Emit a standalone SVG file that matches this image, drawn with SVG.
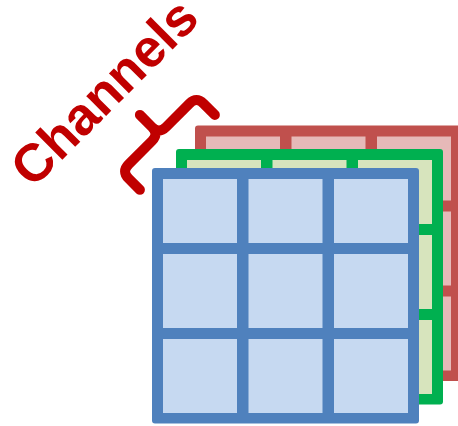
<svg xmlns="http://www.w3.org/2000/svg" xmlns:xlink="http://www.w3.org/1999/xlink" width="458" height="426" viewBox="0 0 458 426">
  <style>
    .label { font-family: "Liberation Sans", Arial, sans-serif; font-weight: bold; font-size: 53px; fill: #C00000; }
    .brace { fill: none; stroke: #C00000; stroke-width: 10; stroke-linecap: round; stroke-linejoin: round; }
    .blue-frame { fill: #4F81BD; }  .blue-cell { fill: #C6D9F1; }
    .green-frame { fill: #00B050; } .green-cell { fill: #D7E4BD; }
    .red-frame { fill: #C0504D; }   .red-cell { fill: #E6B9B8; }
  </style>
  <defs>
    <!-- one 3x3 channel grid: coloured frame with nine cells cut into it -->
    <rect id="frame" x="152" y="168" width="267" height="255.5" rx="3"/>
    <g id="cells">
      <rect x="163" y="179" width="74" height="64"/>
      <rect x="248.5" y="179" width="74" height="64"/>
      <rect x="334" y="179" width="74" height="64"/>
      <rect x="163" y="254" width="74" height="74"/>
      <rect x="248.5" y="254" width="74" height="74"/>
      <rect x="334" y="254" width="74" height="74"/>
      <rect x="163" y="339" width="74" height="74"/>
      <rect x="248.5" y="339" width="74" height="74"/>
      <rect x="334" y="339" width="74" height="74"/>
    </g>
  </defs>

  <!-- back channel (red) -->
  <g id="channel-red" transform="translate(43,-42.5)">
    <use xlink:href="#frame" class="red-frame"/>
    <use xlink:href="#cells" class="red-cell"/>
  </g>

  <!-- middle channel (green) -->
  <g id="channel-green" transform="translate(24,-19)">
    <use xlink:href="#frame" class="green-frame"/>
    <use xlink:href="#cells" class="green-cell"/>
  </g>

  <!-- front channel (blue) -->
  <g id="channel-blue">
    <use xlink:href="#frame" class="blue-frame"/>
    <use xlink:href="#cells" class="blue-cell"/>
  </g>

  <!-- curly brace spanning the stacked channels -->
  <g id="brace" transform="translate(159,134) rotate(-45)">
    <path class="brace" d="M -53 26 L -53 10 Q -53 0 -43 0 L -10 0 Q 0 0 0 -10 L 0 -27 M 0 -10 Q 0 0 10 0 L 43 0 Q 53 0 53 10 L 53 26"/>
  </g>

  <!-- label -->
  <g id="label">
    <text class="label" text-anchor="middle" transform="translate(117,105) rotate(-45)">Channels</text>
  </g>
</svg>
